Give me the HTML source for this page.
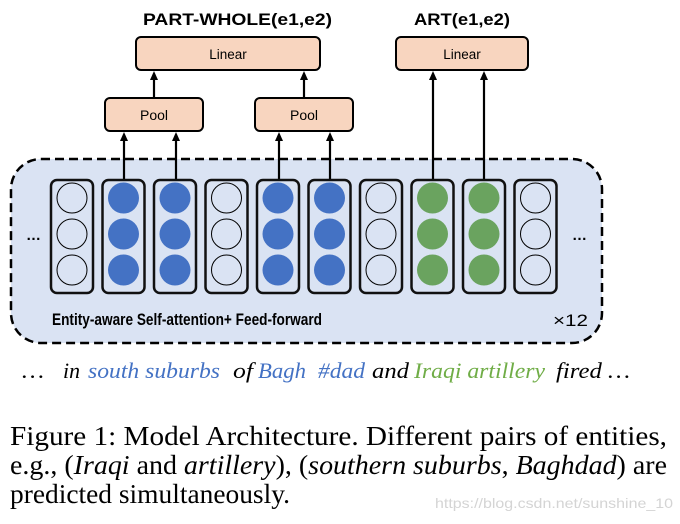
<!DOCTYPE html>
<html><head><meta charset="utf-8"><style>
html,body{margin:0;padding:0;background:#fff;}
svg{display:block;}
</style></head><body>
<svg width="680" height="524" viewBox="0 0 680 524" xmlns="http://www.w3.org/2000/svg">
<!-- dashed container -->
<rect x="11" y="159" width="591" height="184" rx="30" fill="#dae3f3" stroke="#000" stroke-width="2.5" stroke-dasharray="9,5"/>
<!-- titles -->
<text x="143" y="25" font-family="Liberation Sans, sans-serif" font-weight="bold" font-size="16.5" textLength="189" lengthAdjust="spacingAndGlyphs" fill="#000">PART-WHOLE(e1,e2)</text>
<text x="414" y="25" font-family="Liberation Sans, sans-serif" font-weight="bold" font-size="16.5" textLength="96" lengthAdjust="spacingAndGlyphs" fill="#000">ART(e1,e2)</text>
<!-- linear boxes -->
<rect x="136" y="37" width="184" height="33" rx="5" fill="#f8d5bf" stroke="#000" stroke-width="2"/>
<text x="228" y="59" font-family="Liberation Sans, sans-serif" font-size="13.5" text-anchor="middle">Linear</text>
<rect x="396" y="37" width="132" height="33" rx="5" fill="#f8d5bf" stroke="#000" stroke-width="2"/>
<text x="462" y="59" font-family="Liberation Sans, sans-serif" font-size="13.5" text-anchor="middle">Linear</text>
<!-- pool boxes -->
<rect x="105" y="98" width="98" height="33" rx="5" fill="#f8d5bf" stroke="#000" stroke-width="2"/>
<text x="154" y="120" font-family="Liberation Sans, sans-serif" font-size="14" text-anchor="middle">Pool</text>
<rect x="255" y="98" width="98" height="33" rx="5" fill="#f8d5bf" stroke="#000" stroke-width="2"/>
<text x="304" y="120" font-family="Liberation Sans, sans-serif" font-size="14" text-anchor="middle">Pool</text>
<!-- arrows -->
<g stroke="#000" stroke-width="2.2" fill="none">
<line x1="154" y1="98" x2="154" y2="78"/>
<line x1="304" y1="98" x2="304" y2="78"/>
<line x1="124" y1="180" x2="124" y2="139"/>
<line x1="176" y1="180" x2="176" y2="139"/>
<line x1="279" y1="180" x2="279" y2="139"/>
<line x1="330" y1="180" x2="330" y2="139"/>
<line x1="433" y1="180" x2="433" y2="78"/>
<line x1="484" y1="180" x2="484" y2="78"/>
</g>
<g fill="#000">
<path d="M150,80 L154,71 L158,80 Z"/>
<path d="M300,80 L304,71 L308,80 Z"/>
<path d="M429,80 L433,71 L437,80 Z"/>
<path d="M480,80 L484,71 L488,80 Z"/>
<path d="M120,141 L124,132 L128,141 Z"/>
<path d="M172,141 L176,132 L180,141 Z"/>
<path d="M275,141 L279,132 L283,141 Z"/>
<path d="M326,141 L330,132 L334,141 Z"/>
</g>
<!-- columns -->
<g stroke="#111" stroke-width="2.5">
<rect x="51" y="180" width="42" height="113" rx="6" fill="#dae3f3"/>
<rect x="102.5" y="180" width="42" height="113" rx="6" fill="#dae3f3"/>
<rect x="154" y="180" width="42" height="113" rx="6" fill="#dae3f3"/>
<rect x="205.5" y="180" width="42" height="113" rx="6" fill="#dae3f3"/>
<rect x="257" y="180" width="42" height="113" rx="6" fill="#dae3f3"/>
<rect x="308.5" y="180" width="42" height="113" rx="6" fill="#dae3f3"/>
<rect x="360" y="180" width="42" height="113" rx="6" fill="#dae3f3"/>
<rect x="411.5" y="180" width="42" height="113" rx="6" fill="#dae3f3"/>
<rect x="463" y="180" width="42" height="113" rx="6" fill="#dae3f3"/>
<rect x="514.5" y="180" width="42" height="113" rx="6" fill="#dae3f3"/>
</g>
<g stroke="#000" stroke-width="1" fill="none">
<circle cx="72" cy="198" r="15"/><circle cx="72" cy="234" r="15"/><circle cx="72" cy="270" r="15"/>
<circle cx="226.5" cy="198" r="15"/><circle cx="226.5" cy="234" r="15"/><circle cx="226.5" cy="270" r="15"/>
<circle cx="381" cy="198" r="15"/><circle cx="381" cy="234" r="15"/><circle cx="381" cy="270" r="15"/>
<circle cx="535.5" cy="198" r="15"/><circle cx="535.5" cy="234" r="15"/><circle cx="535.5" cy="270" r="15"/>
</g>
<g fill="#4472c4">
<circle cx="123.5" cy="198" r="15.5"/><circle cx="123.5" cy="234" r="15.5"/><circle cx="123.5" cy="270" r="15.5"/>
<circle cx="175" cy="198" r="15.5"/><circle cx="175" cy="234" r="15.5"/><circle cx="175" cy="270" r="15.5"/>
<circle cx="278" cy="198" r="15.5"/><circle cx="278" cy="234" r="15.5"/><circle cx="278" cy="270" r="15.5"/>
<circle cx="329.5" cy="198" r="15.5"/><circle cx="329.5" cy="234" r="15.5"/><circle cx="329.5" cy="270" r="15.5"/>
</g>
<g fill="#6aa35f">
<circle cx="432.5" cy="198" r="15.5"/><circle cx="432.5" cy="234" r="15.5"/><circle cx="432.5" cy="270" r="15.5"/>
<circle cx="484" cy="198" r="15.5"/><circle cx="484" cy="234" r="15.5"/><circle cx="484" cy="270" r="15.5"/>
</g>
<text x="26" y="240" font-family="Liberation Sans, sans-serif" font-weight="bold" font-size="15">…</text>
<text x="572" y="240" font-family="Liberation Sans, sans-serif" font-weight="bold" font-size="15">…</text>
<text x="52" y="325" font-family="Liberation Sans, sans-serif" font-weight="bold" font-size="16.5" textLength="270" lengthAdjust="spacingAndGlyphs">Entity-aware Self-attention+ Feed-forward</text>
<text x="553" y="326" font-family="Liberation Sans, sans-serif" font-size="17" textLength="35" lengthAdjust="spacingAndGlyphs">×12</text>
<!-- sentence -->
<g font-family="Liberation Serif, serif" font-style="italic" font-size="22">
<text x="22" y="378" textLength="22" lengthAdjust="spacingAndGlyphs">…</text>
<text x="63" y="378" textLength="17" lengthAdjust="spacingAndGlyphs">in</text>
<text x="88" y="378" fill="#4472c4" textLength="132" lengthAdjust="spacingAndGlyphs">south suburbs</text>
<text x="233" y="378" textLength="20" lengthAdjust="spacingAndGlyphs">of</text>
<text x="258" y="378" fill="#4472c4" textLength="48" lengthAdjust="spacingAndGlyphs">Bagh</text>
<text x="318" y="378" fill="#4472c4" textLength="47" lengthAdjust="spacingAndGlyphs">#dad</text>
<text x="372" y="378" textLength="37" lengthAdjust="spacingAndGlyphs">and</text>
<text x="414" y="378" fill="#70ad47" textLength="131" lengthAdjust="spacingAndGlyphs">Iraqi artillery</text>
<text x="556" y="378" textLength="74" lengthAdjust="spacingAndGlyphs">fired …</text>
</g>
<!-- caption -->
<g font-family="Liberation Serif, serif" font-size="27" fill="#000">
<text x="10" y="445" textLength="657" lengthAdjust="spacingAndGlyphs">Figure 1:  Model Architecture.  Different pairs of entities,</text>
<text x="10" y="474" textLength="657" lengthAdjust="spacingAndGlyphs">e.g., (<tspan font-style="italic">Iraqi</tspan> and <tspan font-style="italic">artillery</tspan>), (<tspan font-style="italic">southern suburbs</tspan>, <tspan font-style="italic">Baghdad</tspan>) are</text>
<text x="10" y="503" textLength="280" lengthAdjust="spacingAndGlyphs">predicted simultaneously.</text>
</g>
<text x="673" y="508" font-family="Liberation Sans, sans-serif" font-size="14" fill="#d4d4d4" text-anchor="end" textLength="238" lengthAdjust="spacingAndGlyphs">https://blog.csdn.net/sunshine_10</text>
</svg>
</body></html>
